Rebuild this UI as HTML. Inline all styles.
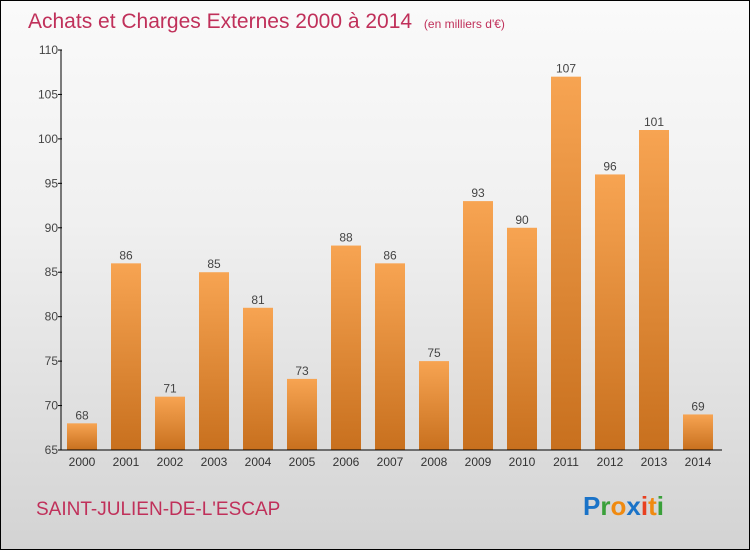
<!DOCTYPE html>
<html><head><meta charset="utf-8"><style>
html,body{margin:0;padding:0}
body{width:750px;height:550px;overflow:hidden;font-family:"Liberation Sans",sans-serif}
#wrap{position:relative;width:748px;height:548px;border:1px solid #000;background:linear-gradient(#fafafa,#f0f0f0 40%,#d3d3d3)}
</style></head><body>
<div id="wrap">
<svg width="748" height="548" style="position:absolute;left:0;top:0" id="svg">
<text x="27" y="27" font-size="21" fill="#c0305a">Achats et Charges Externes 2000 à 2014 <tspan font-size="12" dx="6">(en milliers d'€)</tspan></text>
<text x="35" y="514" font-size="19" fill="#c0305a">SAINT-JULIEN-DE-L'ESCAP</text>
<g font-size="26" font-weight="bold">
<text x="582" y="514"><tspan fill="#1a73c8">P</tspan><tspan fill="#3aa03a">r</tspan><tspan fill="#f08a10">o</tspan><tspan fill="#1a73c8">x</tspan><tspan fill="#e84020">i</tspan><tspan fill="#f08a10">t</tspan><tspan fill="#3aa03a">i</tspan></text>
</g>
<defs><linearGradient id="bg" x1="0" y1="0" x2="0" y2="1"><stop offset="0" stop-color="#f7a452"/><stop offset="1" stop-color="#c8701e"/></linearGradient></defs>
<g id="bars"></g><g id="axes"></g>
</svg>
</div>
<script>
const years=["2000","2001","2002","2003","2004","2005","2006","2007","2008","2009","2010","2011","2012","2013","2014"];
const values=[68,86,71,85,81,73,88,86,75,93,90,107,96,101,69];
const yTicks=[65,70,75,80,85,90,95,100,105,110];
const NS="http://www.w3.org/2000/svg";
const y0=449,y1=49,vmin=65,vmax=110;
function yS(v){return y0-(v-vmin)/(vmax-vmin)*(y0-y1);}
function xS(i){return 81+i*44;}
const bars=document.getElementById('bars'),axes=document.getElementById('axes');
function mk(t,a,p){const e=document.createElementNS(NS,t);for(const k in a)e.setAttribute(k,a[k]);p.appendChild(e);return e;}
values.forEach((v,i)=>{
 const r=mk('rect',{x:xS(i)-15,y:yS(v),width:30,height:y0-yS(v),fill:'url(#bg)'},bars);
 
 
 const t=mk('text',{x:xS(i),y:yS(v)-4,'text-anchor':'middle','font-size':12,fill:'#444'},bars);
 t.textContent=v;
 
 
 const l=mk('text',{x:xS(i),y:y0+16,'text-anchor':'middle','font-size':12,fill:'#333'},axes);
 l.textContent=years[i];
 
 
});
const ya=mk('line',{x1:60,y1:y1,x2:60,y2:y0,stroke:'#000'},axes);


const xa=mk('line',{x1:60,y1:y0,x2:721,y2:y0,stroke:'#000'},axes);


yTicks.forEach(v=>{
 mk('line',{x1:57,y1:yS(v),x2:61,y2:yS(v),stroke:'#000'},axes);
 const t=mk('text',{x:57,y:yS(v)+4,'text-anchor':'end','font-size':12,fill:'#444'},axes);
 t.textContent=v;
 
 
});
</script>
</body></html>
